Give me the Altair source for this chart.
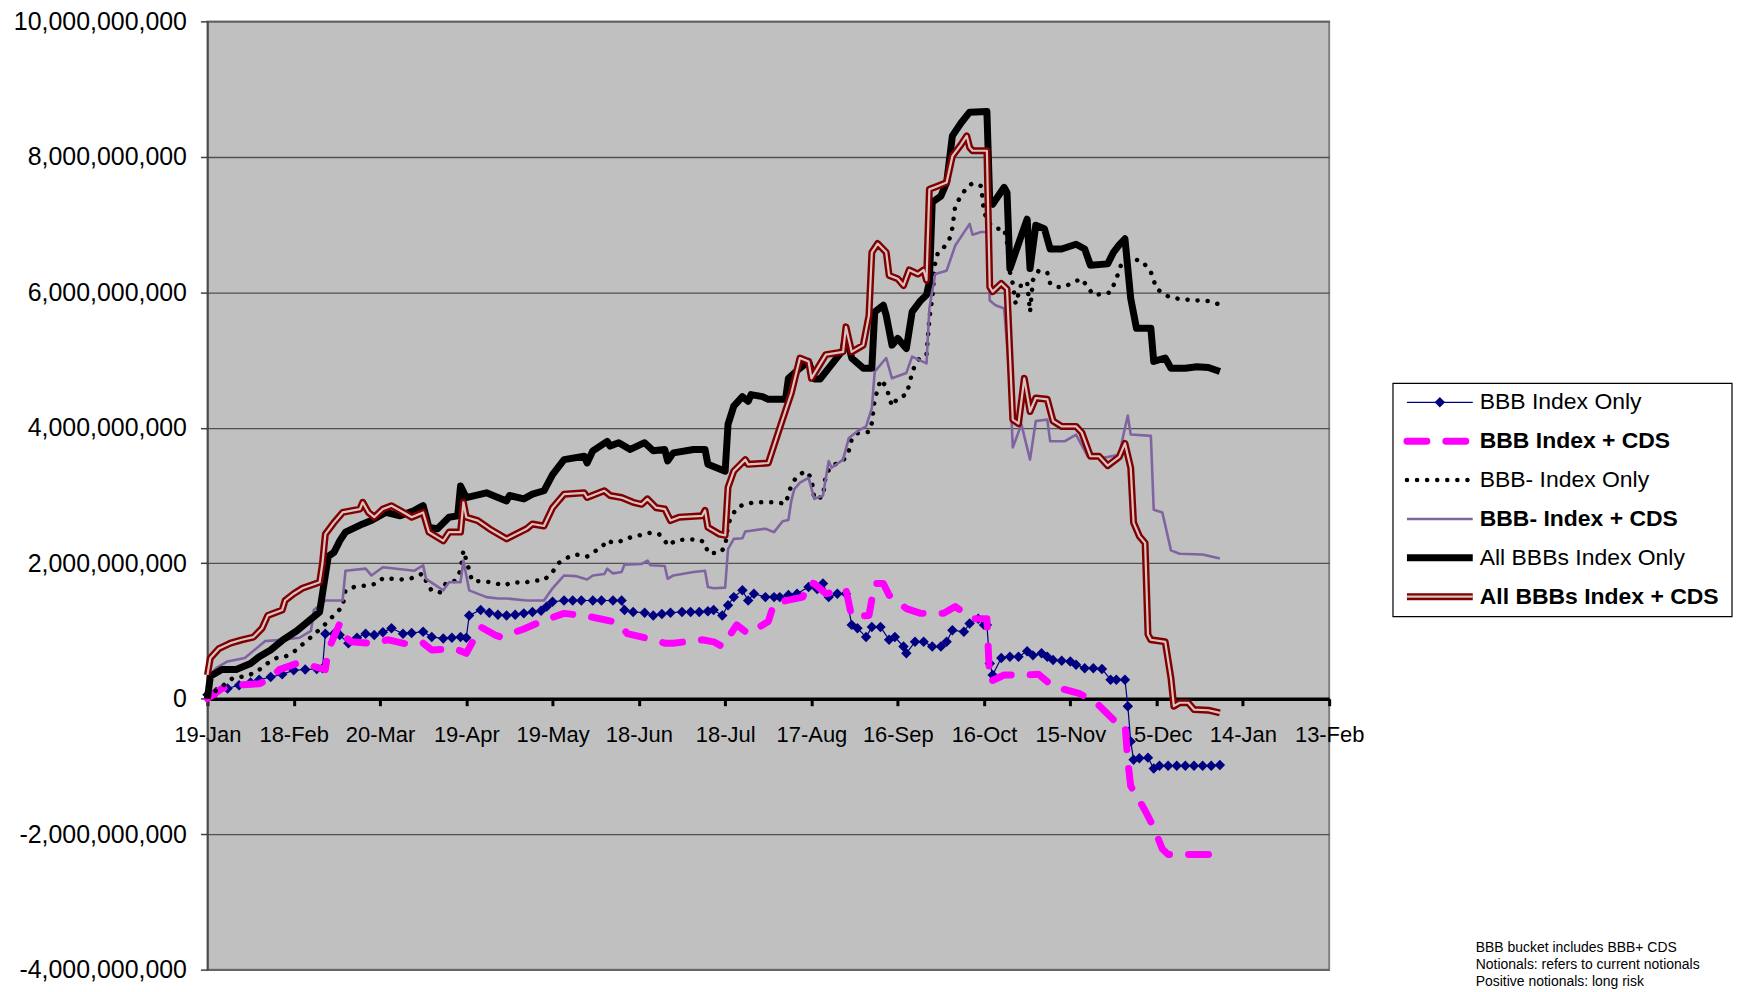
import altair as alt
import pandas as pd

# ---------------- data (values in billions, x = days after 19-Jan) ----------------
tick_days = [0, 30, 60, 90, 120, 150, 180, 210, 240, 270, 300, 330, 360, 390]
tick_labels = ["19-Jan", "18-Feb", "20-Mar", "19-Apr", "19-May", "18-Jun", "18-Jul",
               "17-Aug", "16-Sep", "16-Oct", "15-Nov", "15-Dec", "14-Jan", "13-Feb"]
y_ticks = [-4e9, -2e9, 0, 2e9, 4e9, 6e9, 8e9, 10e9]

series_names = ["BBB Index Only", "BBB Index + CDS", "BBB- Index Only",
                "BBB- Index + CDS", "All BBBs Index Only", "All BBBs Index + CDS"]

bbb_idx_days = [0, 3, 7, 11, 15, 18, 22, 26, 30, 34, 38, 40, 41, 44, 46, 49, 52, 55, 58, 61,
                64, 68, 71, 75, 78, 82, 85, 88, 90, 91, 95, 98, 101, 104, 107, 110, 113, 116, 118, 120,
                124, 127, 130, 134, 137, 141, 144, 145, 148, 152, 155, 158, 161, 165, 168, 171, 174, 176, 179, 181,
                183, 186, 188, 190, 194, 197, 199, 202, 205, 209, 212, 214, 216, 219, 222, 224, 226, 229, 231, 234,
                237, 239, 242, 243, 246, 249, 252, 255, 257, 259, 263, 265, 268, 270, 271, 272, 273, 276, 279, 282,
                285, 287, 290, 292, 294, 297, 300, 302, 305, 308, 311, 314, 316, 319, 320, 321, 322, 324, 327, 329,
                331, 334, 337, 340, 343, 346, 349, 352]
bbb_idx_vals = [0.06, 0.10, 0.15, 0.20, 0.24, 0.28, 0.32, 0.36, 0.42, 0.43, 0.44, 0.45, 0.96, 0.96, 0.94, 0.82, 0.90, 0.96, 0.94, 0.98,
                1.04, 0.96, 0.97, 0.99, 0.91, 0.89, 0.90, 0.91, 0.90, 1.23, 1.31, 1.27, 1.24, 1.23, 1.24, 1.26, 1.28, 1.30, 1.36, 1.43,
                1.45, 1.45, 1.45, 1.45, 1.45, 1.45, 1.45, 1.31, 1.28, 1.27, 1.23, 1.25, 1.27, 1.28, 1.28, 1.28, 1.29, 1.31, 1.23, 1.38,
                1.50, 1.60, 1.45, 1.55, 1.50, 1.50, 1.50, 1.53, 1.55, 1.65, 1.62, 1.70, 1.50, 1.55, 1.55, 1.09, 1.04, 0.91, 1.06, 1.06,
                0.87, 0.91, 0.77, 0.67, 0.84, 0.84, 0.77, 0.77, 0.84, 1.01, 0.99, 1.11, 1.18, 1.09, 1.09, 0.52, 0.35, 0.60, 0.62, 0.62,
                0.70, 0.64, 0.67, 0.62, 0.57, 0.56, 0.55, 0.50, 0.45, 0.45, 0.44, 0.28, 0.28, 0.28, -0.11, -0.63, -0.90, -0.88, -0.87, -1.03,
                -0.99, -0.99, -0.99, -0.99, -0.99, -0.99, -0.99, -0.98]

bbb_cds_days = [0, 5, 10, 18, 22, 25, 31, 35, 41, 42, 46, 48, 50, 56, 63, 71, 75, 78, 86, 90,
                95, 100, 102, 110, 116, 124, 132, 141, 143, 146, 155, 159, 162, 172, 176, 179, 184, 188, 195, 197,
                207, 209, 211, 215, 222, 224, 230, 232, 235, 237, 243, 248, 256, 260, 266, 271, 272, 277, 284, 289,
                294, 303, 309, 315, 319, 320, 321, 326, 329, 332, 334, 340, 348, 352]
bbb_cds_vals = [0.0, 0.15, 0.20, 0.22, 0.30, 0.43, 0.52, 0.50, 0.43, 0.72, 1.11, 0.91, 0.84, 0.82, 0.87, 0.79, 0.82, 0.72, 0.74, 0.67,
                1.06, 0.94, 0.91, 1.03, 1.14, 1.26, 1.22, 1.14, 1.11, 0.96, 0.87, 0.82, 0.82, 0.87, 0.84, 0.77, 1.09, 0.96, 1.14, 1.41,
                1.50, 1.72, 1.70, 1.55, 1.61, 1.21, 1.23, 1.70, 1.70, 1.53, 1.33, 1.26, 1.26, 1.36, 1.18, 1.18, 0.25, 0.35, 0.35, 0.36,
                0.18, 0.08, -0.06, -0.31, -0.36, -0.92, -1.29, -1.65, -1.90, -2.22, -2.30, -2.30, -2.30, -2.27]

bbbm_idx_days = [0, 5, 9, 13, 17, 20, 24, 27, 31, 33, 36, 40, 43, 47, 48, 51, 55, 59, 61, 64,
                 68, 71, 75, 76, 78, 81, 83, 86, 88, 89, 90, 92, 96, 99, 103, 106, 110, 113, 117, 120,
                 122, 125, 128, 132, 134, 137, 139, 141, 145, 147, 151, 154, 157, 159, 160, 163, 167, 171, 173, 174,
                 178, 180, 181, 182, 184, 186, 190, 193, 197, 201, 203, 205, 208, 210, 211, 214, 215, 217, 221, 223,
                 224, 226, 230, 231, 232, 233, 234, 236, 237, 238, 240, 243, 244, 245, 246, 248, 250, 251, 252, 253,
                 254, 256, 258, 259, 260, 262, 264, 266, 269, 270, 272, 274, 277, 278, 279, 280, 281, 282, 283, 285,
                 286, 287, 289, 292, 293, 295, 298, 301, 304, 306, 308, 312, 314, 316, 318, 321, 325, 328, 330, 334,
                 338, 344, 348, 352]
bbbm_idx_vals = [0.03, 0.18, 0.31, 0.33, 0.39, 0.50, 0.60, 0.62, 0.72, 0.80, 0.91, 1.06, 1.19, 1.36, 1.60, 1.65, 1.67, 1.70, 1.78, 1.77,
                 1.76, 1.78, 1.85, 1.74, 1.59, 1.57, 1.71, 1.74, 1.89, 2.19, 2.05, 1.74, 1.73, 1.72, 1.67, 1.72, 1.71, 1.74, 1.75, 1.87,
                 2.00, 2.08, 2.13, 2.10, 2.16, 2.23, 2.34, 2.30, 2.34, 2.38, 2.42, 2.45, 2.43, 2.34, 2.26, 2.34, 2.35, 2.35, 2.30, 2.15,
                 2.15, 2.24, 2.56, 2.68, 2.81, 2.86, 2.90, 2.90, 2.90, 2.88, 3.15, 3.29, 3.36, 3.26, 2.95, 2.98, 3.31, 3.44, 3.51, 3.66,
                 3.83, 3.92, 3.94, 4.07, 4.42, 4.56, 4.71, 4.61, 4.46, 4.32, 4.44, 4.49, 4.64, 4.81, 4.93, 5.05, 5.08, 5.61, 5.91, 6.42,
                 6.59, 6.66, 6.79, 6.95, 7.28, 7.42, 7.55, 7.61, 7.57, 7.18, 7.01, 6.94, 6.94, 6.74, 6.30, 6.13, 5.83, 5.98, 6.13, 6.15,
                 5.71, 6.18, 6.32, 6.29, 6.13, 6.08, 6.08, 6.15, 6.20, 6.08, 5.96, 5.98, 6.00, 6.20, 6.45, 6.50, 6.46, 6.30, 6.05, 5.94,
                 5.90, 5.88, 5.87, 5.82]

bbbm_cds_days = [0, 3, 7, 13, 20, 26, 32, 36, 37, 41, 47, 48, 55, 57, 61, 72, 75, 76, 82, 84,
                 88, 89, 91, 97, 101, 104, 111, 117, 120, 124, 128, 132, 134, 138, 139, 141, 144, 145, 151, 153,
                 154, 159, 160, 162, 169, 173, 174, 176, 180, 181, 183, 186, 187, 194, 197, 200, 202, 203, 204, 206,
                 209, 211, 214, 216, 217, 221, 223, 226, 229, 231, 232, 236, 238, 243, 245, 250, 251, 253, 257, 260,
                 265, 266, 269, 271, 272, 274, 277, 279, 280, 283, 286, 288, 292, 293, 298, 302, 306, 312, 317, 319,
                 320, 321, 328, 329, 332, 335, 338, 346, 352]
bbbm_cds_vals = [0.30, 0.45, 0.55, 0.60, 0.85, 0.87, 0.90, 1.00, 1.31, 1.45, 1.45, 1.89, 1.92, 1.82, 1.94, 1.89, 1.97, 1.77, 1.60, 1.72,
                 1.72, 2.04, 1.60, 1.50, 1.48, 1.48, 1.45, 1.45, 1.63, 1.82, 1.81, 1.76, 1.82, 1.84, 1.92, 1.85, 1.87, 1.98, 1.99, 2.04,
                 1.97, 1.96, 1.77, 1.82, 1.87, 1.89, 1.65, 1.63, 1.64, 2.21, 2.36, 2.37, 2.47, 2.51, 2.46, 2.62, 2.64, 2.92, 3.09, 3.19,
                 3.26, 2.95, 3.00, 3.51, 3.41, 3.53, 3.85, 3.95, 4.02, 4.29, 4.83, 5.03, 4.73, 4.81, 5.05, 4.95, 5.76, 6.27, 6.32, 6.69,
                 7.01, 6.85, 6.89, 6.89, 5.88, 5.81, 5.76, 4.68, 3.71, 4.05, 3.53, 4.10, 4.12, 3.80, 3.80, 3.90, 3.58, 3.56, 3.60, 4.00,
                 4.18, 3.90, 3.88, 2.79, 2.75, 2.19, 2.14, 2.13, 2.07]

all_idx_days = [0, 1, 5, 10, 15, 18, 22, 26, 31, 35, 39, 40, 42, 44, 46, 48, 54, 57, 62, 67,
                72, 75, 77, 80, 84, 87, 88, 90, 97, 101, 104, 105, 110, 113, 117, 120, 124, 131, 132, 134,
                139, 140, 143, 147, 152, 155, 159, 160, 162, 169, 173, 174, 177, 180, 181, 183, 186, 188, 189, 193,
                195, 201, 202, 206, 209, 211, 213, 216, 221, 222, 224, 228, 231, 232, 235, 236, 238, 240, 243, 245,
                248, 250, 251, 252, 255, 257, 259, 262, 265, 271, 272, 273, 277, 278, 279, 283, 285, 286, 288, 291,
                293, 297, 302, 305, 307, 313, 315, 317, 319, 321, 323, 328, 329, 333, 335, 340, 344, 348, 352]
all_idx_vals = [0.0, 0.33, 0.43, 0.43, 0.52, 0.62, 0.72, 0.86, 1.00, 1.14, 1.28, 1.55, 2.10, 2.16, 2.33, 2.46, 2.58, 2.63, 2.75, 2.70,
                2.78, 2.85, 2.53, 2.51, 2.68, 2.70, 3.14, 2.97, 3.04, 2.97, 2.92, 3.00, 2.95, 3.02, 3.07, 3.31, 3.53, 3.58, 3.48, 3.66,
                3.80, 3.73, 3.78, 3.68, 3.78, 3.66, 3.68, 3.51, 3.63, 3.68, 3.68, 3.46, 3.41, 3.36, 4.05, 4.32, 4.46, 4.39, 4.49, 4.46,
                4.42, 4.42, 4.73, 4.88, 4.98, 4.72, 4.72, 4.88, 5.15, 5.37, 5.03, 4.88, 4.88, 5.71, 5.81, 5.66, 5.22, 5.32, 5.17, 5.71,
                5.88, 5.96, 6.15, 7.33, 7.42, 7.62, 8.31, 8.50, 8.66, 8.67, 7.33, 7.30, 7.55, 7.47, 6.35, 6.84, 7.08, 6.35, 6.99, 6.94,
                6.64, 6.64, 6.71, 6.64, 6.40, 6.42, 6.59, 6.70, 6.79, 5.91, 5.47, 5.47, 4.98, 5.03, 4.88, 4.88, 4.90, 4.89, 4.83]

all_cds_days = [0, 1, 4, 8, 12, 16, 19, 21, 26, 27, 30, 33, 39, 40, 41, 44, 47, 53, 54, 56,
                58, 61, 64, 69, 71, 75, 77, 82, 84, 88, 89, 90, 94, 98, 102, 104, 111, 113, 117, 120,
                124, 131, 132, 138, 140, 144, 148, 151, 153, 156, 159, 161, 164, 172, 173, 174, 178, 180, 181, 183,
                187, 188, 195, 199, 203, 206, 209, 210, 215, 221, 222, 224, 228, 230, 231, 233, 236, 237, 240, 242,
                244, 247, 249, 250, 251, 254, 257, 259, 262, 264, 265, 266, 271, 272, 273, 276, 278, 280, 282, 284,
                286, 288, 292, 294, 297, 302, 304, 307, 310, 313, 317, 319, 321, 322, 324, 326, 327, 328, 333, 335,
                336, 338, 341, 343, 348, 352]
all_cds_vals = [0.35, 0.60, 0.74, 0.82, 0.87, 0.91, 1.04, 1.23, 1.31, 1.45, 1.55, 1.63, 1.72, 2.00, 2.43, 2.60, 2.75, 2.80, 2.90, 2.75,
                2.68, 2.80, 2.85, 2.73, 2.68, 2.75, 2.46, 2.33, 2.46, 2.46, 2.90, 2.68, 2.63, 2.51, 2.41, 2.36, 2.51, 2.58, 2.55, 2.82,
                3.02, 3.04, 2.97, 3.07, 3.00, 2.97, 2.90, 2.87, 2.95, 2.82, 2.80, 2.63, 2.68, 2.70, 2.78, 2.53, 2.43, 2.41, 3.12, 3.36,
                3.53, 3.46, 3.48, 4.00, 4.51, 5.03, 4.98, 4.73, 5.08, 5.12, 5.49, 5.12, 5.22, 5.66, 6.59, 6.72, 6.59, 6.25, 6.20, 6.10,
                6.33, 6.27, 6.33, 6.18, 7.52, 7.57, 7.62, 8.01, 8.18, 8.31, 8.14, 8.09, 8.09, 6.08, 6.01, 6.13, 6.05, 4.12, 4.06, 4.73,
                4.24, 4.44, 4.42, 4.10, 4.02, 4.02, 3.93, 3.58, 3.58, 3.44, 3.57, 3.77, 3.41, 2.60, 2.40, 2.30, 0.95, 0.87, 0.84, 0.30,
                -0.11, -0.06, -0.06, -0.16, -0.17, -0.21]

notes = ["BBB bucket includes BBB+ CDS",
         "Notionals: refers to current notionals",
         "Positive notionals: long risk"]

# ---------------- styling / layout ----------------
FONT = "Liberation Sans"
W, H = 1125, 951
NAVY, MAGENTA, PURPLE, DARKRED = "#000080", "#FF00FF", "#8064A2", "#800000"
RED_INNER = "#D8C4C4"


def frame(days, vals):
    return pd.DataFrame({"day": days, "value": [v * 1e9 for v in vals]})


label_js = "[" + ",".join("'%s'" % t for t in tick_labels) + "]"
X = alt.X("day:Q",
          scale=alt.Scale(domain=[tick_days[0], tick_days[-1]], nice=False, zero=False),
          axis=alt.Axis(values=tick_days, labelExpr=label_js + "[round(datum.value / 30)]",
                        orient="bottom", offset=-(H * 4 / 14), grid=False, title=None,
                        domainColor="black", domainWidth=3.5, tickColor="black", tickWidth=3,
                        tickSize=7, labelFontSize=22, labelFont=FONT, labelColor="black",
                        labelPadding=19, labelFlush=False, labelOverlap=False))
Y = alt.Y("value:Q",
          scale=alt.Scale(domain=[y_ticks[0], y_ticks[-1]], nice=False, zero=False),
          axis=alt.Axis(values=y_ticks, labelExpr="replace(format(datum.value, ','), '\u2212', '-')",
                        grid=True, gridColor="#505050", gridWidth=1.3, title=None,
                        domainColor="#404040", domainWidth=1.5, tickColor="#404040", tickWidth=1.5,
                        tickSize=7, labelFontSize=25, labelFont=FONT, labelColor="black",
                        labelPadding=14))

layers = []
d1 = frame(bbb_idx_days, bbb_idx_vals)
layers.append(alt.Chart(d1).mark_line(color=NAVY, strokeWidth=1.2).encode(x=X, y=Y))
layers.append(alt.Chart(d1).mark_point(shape="diamond", filled=True, size=110, color=NAVY, opacity=1).encode(x=X, y=Y))
layers.append(alt.Chart(frame(bbb_cds_days, bbb_cds_vals)).mark_line(
    color=MAGENTA, strokeWidth=7, strokeDash=[20, 19], strokeCap="round", strokeJoin="round").encode(x=X, y=Y))
layers.append(alt.Chart(frame(bbbm_idx_days, bbbm_idx_vals)).mark_line(
    color="black", strokeWidth=4.5, strokeDash=[0.1, 10], strokeCap="round", strokeJoin="round").encode(x=X, y=Y))
layers.append(alt.Chart(frame(bbbm_cds_days, bbbm_cds_vals)).mark_line(
    color=PURPLE, strokeWidth=2.6, strokeJoin="round").encode(x=X, y=Y))
layers.append(alt.Chart(frame(all_idx_days, all_idx_vals)).mark_line(
    color="black", strokeWidth=7, strokeJoin="round").encode(x=X, y=Y))
d6 = frame(all_cds_days, all_cds_vals)
layers.append(alt.Chart(d6).mark_line(color=DARKRED, strokeWidth=7, strokeJoin="round").encode(x=X, y=Y))
layers.append(alt.Chart(d6).mark_line(color=RED_INNER, strokeWidth=2.2, strokeJoin="round").encode(x=X, y=Y))

# ---------------- legend (drawn as a box to the right of the plot) ----------------
one = pd.DataFrame({"k": [0]})
LX0, LX1, LY0, LY1 = 1189, 1529, 363, 597
layers.append(alt.Chart(one).mark_rect(fill="white", stroke="black", strokeWidth=1.2).encode(
    x=alt.value(LX0), x2=alt.value(LX1), y=alt.value(LY0), y2=alt.value(LY1)))

sym_styles = [
    dict(color=NAVY, strokeWidth=1.2),
    dict(color=MAGENTA, strokeWidth=7, strokeDash=[20, 19], strokeCap="round"),
    dict(color="black", strokeWidth=4.5, strokeDash=[0.1, 10], strokeCap="round"),
    dict(color=PURPLE, strokeWidth=2.6),
    dict(color="black", strokeWidth=7),
    dict(color=DARKRED, strokeWidth=7),
]
bold = [False, True, False, True, False, True]
for i, name in enumerate(series_names):
    ry = 382 + 39 * i
    layers.append(alt.Chart(one).mark_rule(**sym_styles[i]).encode(
        x=alt.value(1203), x2=alt.value(1269), y=alt.value(ry)))
    if i == 0:
        layers.append(alt.Chart(one).mark_point(shape="diamond", filled=True, size=110, color=NAVY, opacity=1).encode(
            x=alt.value(1236), y=alt.value(ry)))
    if i == 5:
        layers.append(alt.Chart(one).mark_rule(color=RED_INNER, strokeWidth=2.2).encode(
            x=alt.value(1203), x2=alt.value(1269), y=alt.value(ry)))
    layers.append(alt.Chart(pd.DataFrame({"name": [name]})).mark_text(
        align="left", baseline="middle", fontSize=23, font=FONT, color="black",
        fontWeight="bold" if bold[i] else "normal").encode(
        x=alt.value(1276), y=alt.value(ry), text="name:N"))

for j, line in enumerate(notes):
    layers.append(alt.Chart(pd.DataFrame({"t": [line]})).mark_text(
        align="left", baseline="middle", fontSize=14, font=FONT, color="black").encode(
        x=alt.value(1272), y=alt.value(929 + 17 * j), text="t:N"))

chart = alt.layer(*layers).properties(
    width=W, height=H,
    autosize=alt.AutoSizeParams(type="none"),
    padding={"left": 200, "top": 12, "right": 405, "bottom": 21},
).configure(background="white"
).configure_view(fill="#C0C0C0", stroke="#808080", strokeWidth=2)

chart.save("out.html", embed_options={"renderer": "svg", "actions": False})
